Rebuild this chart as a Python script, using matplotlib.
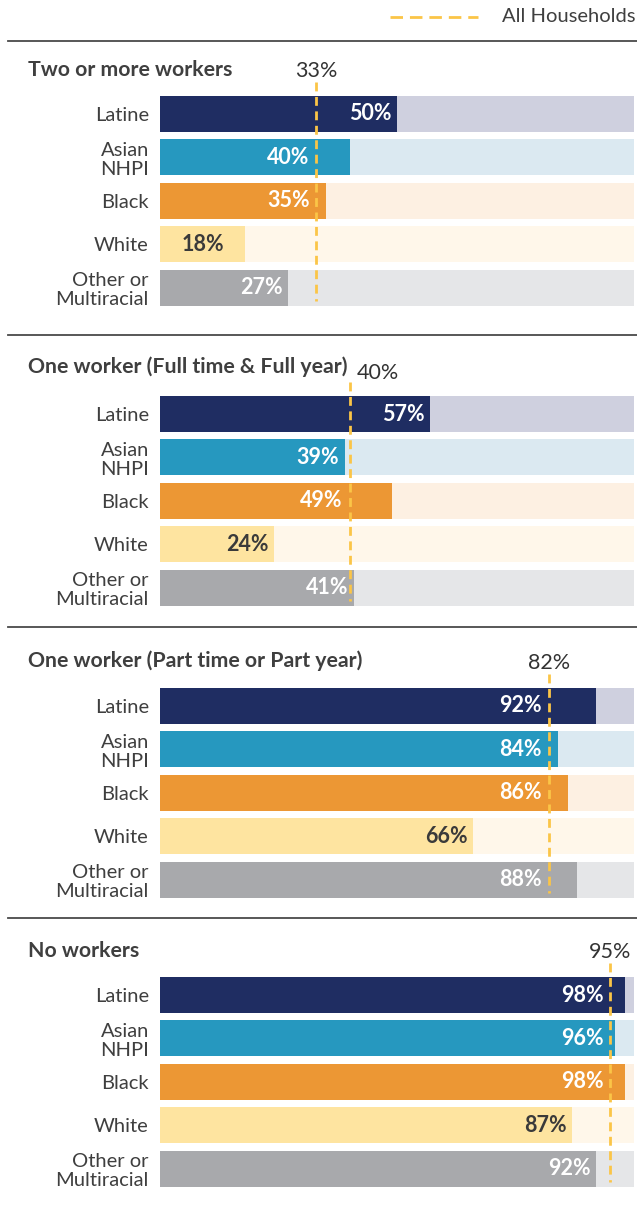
import matplotlib
matplotlib.use("Agg")
import matplotlib.pyplot as plt

# households by number of workers, share per race/ethnicity (%)
groups = ["Two or more workers",
          "One worker (Full time & Full year)",
          "One worker (Part time or Part year)",
          "No workers"]
races = ["Latine", "Asian\nNHPI", "Black", "White", "Other or\nMultiracial"]
two_plus = [50, 40, 35, 18, 27]
one_full = [57, 39, 49, 24, 41]
one_part = [92, 84, 86, 66, 88]
no_workers = [98, 96, 98, 87, 92]
all_households = [33, 40, 82, 95]

values = [two_plus, one_full, one_part, no_workers]

# where each value label sits: at bar end, left of the dashed line, or centred
label_pos = [["end", "line", "line", "mid", "end"],
             ["end", "end", "line", "end", "end"],
             ["line", "line", "line", "end", "line"],
             ["line", "line", "line", "end", "end"]]

bar_cols = ["#1f2d62", "#2698bf", "#ec9734", "#fee4a0", "#a8a9ac"]
track_cols = ["#cfd0df", "#dbe9f1", "#fdf0e2", "#fff7ea", "#e5e6e8"]
lbl_cols = ["white", "white", "white", "#3a3a3a", "white"]
dash_col = "#fbc547"
txt_col = "#3f3f3f"

plt.rcParams["font.family"] = ["Lato", "DejaVu Sans"]

W, H = 637, 1207
fig = plt.figure(figsize=(W / 100, H / 100), dpi=100)

def fx(px):
    return px / W

def fy(py):
    return 1 - py / H

slot = 43.4
first_centre = [114, 414, 706, 995]
titles_y = [70, 367, 661, 951]
seps = [41, 335, 627, 918]
x0, x1 = 160, 634

for y in seps:
    fig.add_artist(plt.Line2D([fx(8), fx(637)], [fy(y), fy(y)],
                              transform=fig.transFigure, color="#4a4a4a", lw=1.3))

# legend
fig.add_artist(plt.Line2D([fx(390), fx(478)], [fy(17), fy(17)],
                          transform=fig.transFigure, color=dash_col, lw=2,
                          dashes=(4.5, 2.5)))
fig.text(fx(636), fy(17), "All Households", ha="right", va="center",
         fontsize=14.5, color=txt_col)

for i in range(4):
    c = first_centre[i]
    top = c - slot / 2
    bot = c + 4 * slot + slot / 2
    ax = fig.add_axes([fx(x0), fy(bot), fx(x1) - fx(x0), (bot - top) / H])
    vals = values[i]
    ys = range(len(races))
    ax.barh(ys, [100] * 5, height=0.83, color=track_cols)
    ax.barh(ys, vals, height=0.83, color=bar_cols)
    ax.set_xlim(0, 100)
    ax.set_ylim(4.5, -0.5)
    ax.set_yticks(list(ys))
    ax.set_yticklabels(races, fontsize=14.5, color=txt_col, linespacing=1.12)
    ax.tick_params(axis="y", length=0, pad=8)
    ax.set_xticks([])
    for s in ax.spines.values():
        s.set_visible(False)

    line = all_households[i]
    ax.plot([line, line], [-0.415 - 0.32, 4.3], color=dash_col, lw=2,
            dashes=(3.2, 2), clip_on=False, zorder=3)
    if i == 1:
        ax.annotate(f"{line}%", (line, -0.415 - 0.32), xytext=(5, -1),
                    textcoords="offset points", ha="left", va="bottom",
                    fontsize=15.5, color="#333333", annotation_clip=False)
    else:
        ax.annotate(f"{line}%", (line, -0.415 - 0.32), xytext=(0, 1),
                    textcoords="offset points", ha="center", va="bottom",
                    fontsize=15.5, color="#333333", annotation_clip=False)

    for j, v in enumerate(vals):
        where = label_pos[i][j]
        if where == "end":
            ax.annotate(f"{v}%", (v, j), xytext=(-4, 0), textcoords="offset points",
                        ha="right", va="center", fontsize=15.5, fontweight="bold",
                        color=lbl_cols[j], zorder=4)
        elif where == "line":
            ax.annotate(f"{v}%", (line, j), xytext=(-5, 0), textcoords="offset points",
                        ha="right", va="center", fontsize=15.5, fontweight="bold",
                        color=lbl_cols[j], zorder=4)
        else:
            ax.text(v / 2, j, f"{v}%", ha="center", va="center", fontsize=15.5,
                    fontweight="bold", color=lbl_cols[j], zorder=4)

    fig.text(fx(28), fy(titles_y[i]), groups[i], ha="left", va="center",
             fontsize=15.3, fontweight="bold", color=txt_col)

fig.savefig("out.png", dpi=100)
